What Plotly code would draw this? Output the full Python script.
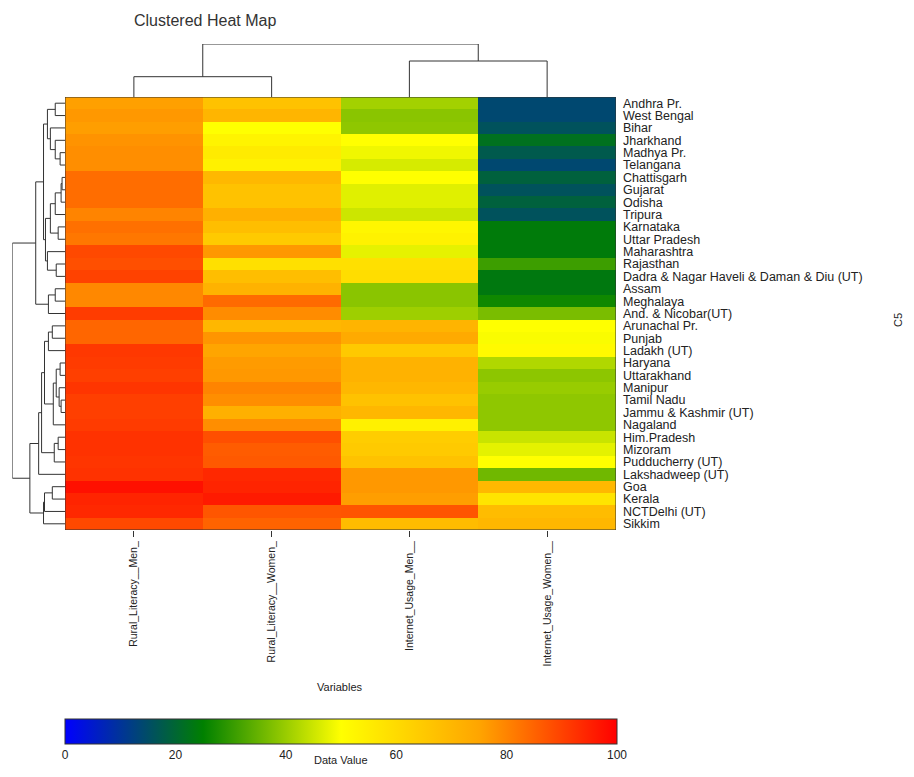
import plotly.graph_objects as go

# page body has an 8px margin; the figure is sized to fit inside it
OFF = 8
W, H = 914 - 2 * OFF, 777 - 2 * OFF

states = [
    "Andhra Pr.", "West Bengal", "Bihar", "Jharkhand", "Madhya Pr.", "Telangana",
    "Chattisgarh", "Gujarat", "Odisha", "Tripura", "Karnataka", "Uttar Pradesh",
    "Maharashtra", "Rajasthan", "Dadra & Nagar Haveli & Daman & Diu (UT)", "Assam",
    "Meghalaya", "And. & Nicobar(UT)", "Arunachal Pr.", "Punjab", "Ladakh (UT)",
    "Haryana", "Uttarakhand", "Manipur", "Tamil Nadu", "Jammu & Kashmir (UT)",
    "Nagaland", "Him.Pradesh", "Mizoram", "Pudducherry (UT)", "Lakshadweep (UT)",
    "Goa", "Kerala", "NCTDelhi (UT)", "Sikkim",
]

variables = ["Rural_Literacy__Men_", "Rural_Literacy__Women_",
             "Internet_Usage_Men__", "Internet_Usage_Women__"]

rural_literacy_men = [75.8, 77, 76, 77.8, 78.5, 78.5, 83.5, 83.5, 83.5, 80, 83, 82,
                      89, 88, 90, 79.4, 79.4, 90.9, 84.5, 84.5, 91.5, 91, 90.5, 92,
                      90.5, 90.5, 91, 92.5, 92.5, 92, 92.5, 97.5, 94.5, 94, 89]
rural_literacy_women = [67, 70.5, 50, 53, 55.5, 54, 69.7, 67, 67, 72, 68, 64.7,
                        77, 58.5, 68, 71.4, 84, 78.8, 70, 77.5, 75, 76.5, 77, 80,
                        78.5, 72, 78.5, 88, 86, 86.5, 94, 94.5, 96, 87, 85]
internet_usage_men = [41, 38.5, 39, 50, 48.5, 46, 50, 47, 47, 45, 52.5, 53.5,
                      47.5, 58.5, 59.5, 38.5, 38.5, 40.5, 70.8, 73.6, 65, 71.4, 71.4, 70,
                      67, 70, 54, 64, 64.7, 67, 77, 77, 76, 87.3, 68.6]
internet_usage_women = [14, 14, 16, 22, 17.5, 14, 19, 16, 19, 16, 24, 24,
                        24, 31, 23.5, 23.5, 26.5, 37, 50, 49.5, 51.5, 42.3, 38.8, 39.9,
                        39, 39, 39, 44.6, 47.4, 50, 36, 69.7, 57.6, 68.6, 70]

colorbar_ticks = [0, 20, 40, 60, 80, 100]

# dendrogram structures: [left, right, merge height]; leaves are row/column indices
row_tree_top = [
    [
        [[0, 1, 10], [2, [3, [4, 5, 5], 10], 15], 18],
        [[[[[6, 7, 3], 8, 4], 9, 10], [10, 11, 7], 15], [12, [13, 14, 9], 18], 20],
        22,
    ],
    [[15, 16, 10], 17, 17],
    30,
]
row_tree_bottom = [
    [
        [
            [[[18, 19, 13], 20, 17],
             [[[21, 22, 5], [23, [24, 25, 4], 6], 9], 26, 12], 21],
            [[27, 28, 7], 29, 11],
            24,
        ],
        30,
        27,
    ],
    [[[31, 32, 13], 33, 21], 34, 22],
    36,
]
row_tree = [row_tree_top, row_tree_bottom, 54]
col_tree = [[0, 1, 20.3], [2, 3, 36], 53]

z = [[a, b, c, d] for a, b, c, d in zip(rural_literacy_men, rural_literacy_women,
                                        internet_usage_men, internet_usage_women)]


def px(x):
    return (x - OFF) / W


def py(y):
    return 1 - (y - OFF) / H


def dendro_segments(node, pos_list, h_list):
    if isinstance(node, int):
        return float(node), 0.0
    left, right, h = node
    p1, h1 = dendro_segments(left, pos_list, h_list)
    p2, h2 = dendro_segments(right, pos_list, h_list)
    pos_list += [p1, p1, p2, p2, None]
    h_list += [h1, h, h, h2, None]
    return (p1 + p2) / 2.0, h


FONT = "Liberation Sans, Arial, Helvetica, sans-serif"
LINE = "#333333"

fig = go.Figure()

fig.add_trace(go.Heatmap(
    z=z,
    x=list(range(len(variables))),
    y=list(range(len(states))),
    zmin=0, zmax=100,
    colorscale=[[0.0, "#0000FF"], [0.25, "#008000"], [0.5, "#FFFF00"],
                [0.75, "#FFA500"], [1.0, "#FF0000"]],
    xaxis="x", yaxis="y",
    colorbar=dict(
        orientation="h",
        x=(px(65) + px(617)) / 2, xanchor="center",
        y=py(719), yanchor="top",
        len=px(617) - px(65), lenmode="fraction",
        thickness=25, thicknessmode="pixels",
        xpad=0, ypad=0,
        outlinewidth=1, outlinecolor=LINE,
        tickvals=colorbar_ticks, ticks="",
        tickfont=dict(family=FONT, size=12, color="#222"),
    ),
))

# row dendrogram
rp, rh = [], []
dendro_segments(row_tree, rp, rh)
fig.add_trace(go.Scatter(x=rh, y=rp, mode="lines", xaxis="x2", yaxis="y2",
                         line=dict(color=LINE, width=1), hoverinfo="skip",
                         showlegend=False))

# column dendrogram
cp, ch = [], []
dendro_segments(col_tree, cp, ch)
fig.add_trace(go.Scatter(x=cp, y=ch, mode="lines", xaxis="x3", yaxis="y3",
                         line=dict(color=LINE, width=1), hoverinfo="skip",
                         showlegend=False))

hx0, hx1 = px(65), px(616)
hy0, hy1 = py(530), py(97)
hidden = dict(visible=False, showgrid=False, zeroline=False, fixedrange=True)

fig.update_layout(
    width=W, height=H, autosize=False,
    margin=dict(l=0, r=0, t=0, b=0),
    paper_bgcolor="white", plot_bgcolor="white",
    showlegend=False,
    font=dict(family=FONT, color="#222"),
    xaxis=dict(domain=[hx0, hx1], range=[-0.5, 3.5], anchor="y",
               tickvals=list(range(len(variables))), ticktext=variables,
               tickangle=-90, ticks="outside", ticklen=6, tickcolor=LINE,
               tickfont=dict(family=FONT, size=10.5, color="#222"),
               showgrid=False, zeroline=False, showline=False, automargin=False),
    yaxis=dict(domain=[hy0, hy1], range=[len(states) - 0.5, -0.5], anchor="x",
               side="right", tickvals=list(range(len(states))), ticktext=states,
               ticks="", ticklabelstandoff=6,
               tickfont=dict(family=FONT, size=12.5, color="#222"),
               showgrid=False, zeroline=False, showline=False, automargin=False),
    xaxis2=dict(domain=[px(12.3), hx0], range=[54, 0], anchor="y2", **hidden),
    yaxis2=dict(domain=[hy0, hy1], range=[len(states) - 0.5, -0.5], anchor="x2", **hidden),
    xaxis3=dict(domain=[hx0, hx1], range=[-0.5, 3.5], anchor="y3", **hidden),
    yaxis3=dict(domain=[hy1, py(44)], range=[0, 53], anchor="x3", **hidden),
    shapes=[dict(type="rect", xref="x", yref="y", x0=-0.5, x1=3.5,
                 y0=-0.5, y1=len(states) - 0.5,
                 line=dict(color=LINE, width=1), fillcolor="rgba(0,0,0,0)")],
    annotations=[
        dict(text="Clustered Heat Map", x=px(205), y=py(20), xref="paper", yref="paper",
             xanchor="center", yanchor="middle", showarrow=False,
             font=dict(family=FONT, size=16, color="#333")),
        dict(text="Variables", x=px(340), y=py(687), xref="paper", yref="paper",
             xanchor="center", yanchor="middle", showarrow=False,
             font=dict(family=FONT, size=11, color="#222")),
        dict(text="Data Value", x=px(341), y=py(768), xref="paper", yref="paper",
             xanchor="center", yanchor="bottom", showarrow=False,
             font=dict(family=FONT, size=11, color="#222")),
        dict(text="C5", x=px(898), y=py(320), xref="paper", yref="paper",
             xanchor="center", yanchor="middle", showarrow=False, textangle=-90,
             font=dict(family=FONT, size=11, color="#222")),
    ],
)

fig.write_html("out.html")
